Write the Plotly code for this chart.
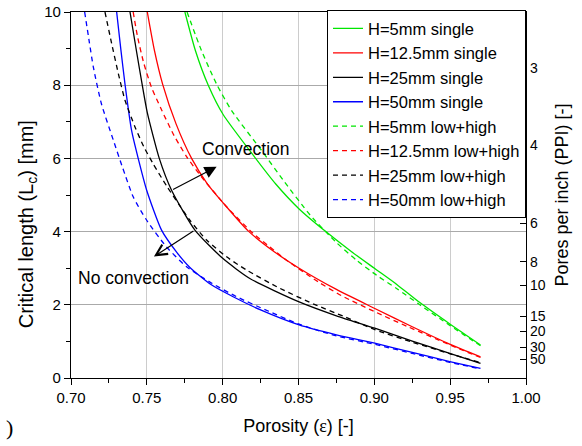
import plotly.graph_objects as go

# ---- Critical length vs porosity, single-layer and low+high models ----
eps_h5_single = [0.7751, 0.7820, 0.7905, 0.8003, 0.8190, 0.8350, 0.8504, 0.8680,
                 0.8850, 0.9003, 0.9150, 0.9300, 0.9500, 0.9700]
L_h5_single = [10.00, 8.95, 8.00, 7.20, 6.15, 5.30, 4.62, 4.00,
               3.45, 2.99, 2.55, 2.06, 1.47, 0.90]

eps_h12_single = [0.7503, 0.7550, 0.7604, 0.7692, 0.7795, 0.7900, 0.8000, 0.8168,
                  0.8340, 0.8504, 0.8750, 0.9003, 0.9250, 0.9500, 0.9700]
L_h12_single = [10.00, 8.95, 8.03, 6.95, 6.00, 5.30, 4.80, 4.02,
                3.45, 3.00, 2.42, 1.90, 1.40, 0.92, 0.58]

eps_h25_single = [0.7389, 0.7433, 0.7470, 0.7503, 0.7582, 0.7663, 0.7817, 0.8000,
                  0.8179, 0.8504, 0.8750, 0.9003, 0.9250, 0.9497, 0.9700]
L_h25_single = [10.00, 8.90, 8.00, 7.25, 6.00, 5.13, 4.04, 3.27,
                2.72, 2.08, 1.70, 1.36, 1.01, 0.67, 0.40]

eps_h50_single = [0.7301, 0.7328, 0.7356, 0.7400, 0.7443, 0.7499, 0.7597, 0.7700,
                  0.7784, 0.7920, 0.8069, 0.8250, 0.8504, 0.8750, 0.9003, 0.9250,
                  0.9497, 0.9700]
L_h50_single = [10.00, 9.00, 8.03, 6.75, 6.00, 5.13, 4.04, 3.42,
                3.02, 2.56, 2.22, 1.86, 1.45, 1.18, 0.95, 0.70,
                0.45, 0.26]

eps_h5_dual = [0.7765, 0.7860, 0.7960, 0.8060, 0.8256, 0.8400, 0.8577, 0.8750,
               0.8882, 0.9014, 0.9156, 0.9300, 0.9500, 0.9700]
L_h5_dual = [10.00, 8.95, 8.03, 7.30, 6.22, 5.40, 4.45, 3.70,
             3.22, 2.81, 2.42, 2.00, 1.43, 0.88]

eps_h12_dual = [0.7410, 0.7440, 0.7480, 0.7530, 0.7600, 0.7680, 0.7762, 0.7850,
                0.8026, 0.8201, 0.8311, 0.8421, 0.8629, 0.8783, 0.9003, 0.9222,
                0.9500, 0.9700]
L_h12_dual = [10.00, 9.30, 8.60, 7.95, 7.30, 6.62, 6.05, 5.55,
              4.68, 3.95, 3.58, 3.22, 2.63, 2.25, 1.81, 1.40,
              0.90, 0.56]

eps_h25_dual = [0.7224, 0.7268, 0.7312, 0.7356, 0.7422, 0.7481, 0.7542, 0.7630,
                0.7718, 0.7784, 0.7894, 0.8026, 0.8157, 0.8377, 0.8600, 0.8800,
                0.9003, 0.9250, 0.9500, 0.9700]
L_h25_dual = [10.00, 9.14, 8.32, 7.59, 6.86, 6.31, 5.85, 5.25,
              4.70, 4.31, 3.77, 3.31, 2.95, 2.45, 2.02, 1.68,
              1.32, 0.98, 0.66, 0.42]

eps_h50_dual = [0.7090, 0.7120, 0.7147, 0.7200, 0.7279, 0.7340, 0.7410, 0.7499,
                0.7630, 0.7762, 0.7916, 0.8092, 0.8300, 0.8504, 0.8750, 0.9003,
                0.9250, 0.9497, 0.9700]
L_h50_dual = [10.00, 9.20, 8.50, 7.50, 6.50, 5.75, 4.95, 4.31,
              3.58, 3.04, 2.62, 2.22, 1.83, 1.47, 1.15, 0.92,
              0.67, 0.43, 0.25]

# Pore density ticks on the right axis (pore size in mm = 25.4 / PPI)
ppi_ticks = [3, 4, 6, 8, 10, 15, 20, 30, 50]
MM_PER_INCH = 25.4

GREEN, RED, BLACK, BLUE = "#00e600", "#ff0000", "#000000", "#0000ff"
SANS = "Liberation Sans, Arial, sans-serif"
SERIF = "Liberation Serif, Times New Roman, serif"

series = [
    ("H=5mm single", eps_h5_single, L_h5_single, GREEN, "solid"),
    ("H=12.5mm single", eps_h12_single, L_h12_single, RED, "solid"),
    ("H=25mm single", eps_h25_single, L_h25_single, BLACK, "solid"),
    ("H=50mm single", eps_h50_single, L_h50_single, BLUE, "solid"),
    ("H=5mm low+high", eps_h5_dual, L_h5_dual, GREEN, "5px,4px"),
    ("H=12.5mm low+high", eps_h12_dual, L_h12_dual, RED, "5px,4px"),
    ("H=25mm low+high", eps_h25_dual, L_h25_dual, BLACK, "5px,4px"),
    ("H=50mm low+high", eps_h50_dual, L_h50_dual, BLUE, "5px,4px"),
]

fig = go.Figure()
for name, xs, ys, color, dash in series:
    fig.add_trace(go.Scatter(
        x=xs, y=ys, name=name, mode="lines",
        line=dict(color=color, width=1.3, dash=dash, shape="spline", smoothing=0.6),
    ))

# invisible trace to activate the right-hand PPI axis
fig.add_trace(go.Scatter(x=[0.7], y=[0], yaxis="y2", mode="markers",
                         marker=dict(opacity=0), showlegend=False, hoverinfo="skip"))

axis_common = dict(
    showline=True, linecolor="black", linewidth=1.2,
    tickfont=dict(family=SANS, size=15, color="black"),
    ticks="outside", ticklen=6, tickcolor="black", tickwidth=1.2,
    zeroline=False,
)

fig.update_layout(
    width=582, height=446,
    margin=dict(l=71, r=56, t=12, b=68, autoexpand=False),
    paper_bgcolor="white", plot_bgcolor="white",
    font=dict(family=SANS, color="black"),
    showlegend=True,
    xaxis=dict(
        range=[0.70, 1.00], dtick=0.05, tick0=0.70, tickformat=".2f",
        showgrid=True, gridcolor="#cccccc", gridwidth=1,
        mirror=True,
        minor=dict(dtick=0.025, ticks="outside", ticklen=4, tickcolor="black",
                   showgrid=False),
        title=dict(text='Porosity (<span style="font-family:Liberation Serif">ε</span>) [-]',
                   font=dict(size=18), standoff=14),
        **axis_common,
    ),
    yaxis=dict(
        range=[0, 10], dtick=2, tick0=0,
        showgrid=True, gridcolor="#aaaaaa", gridwidth=1,
        minor=dict(dtick=1, ticks="outside", ticklen=4, tickcolor="black",
                   showgrid=False),
        **axis_common,
    ),
    yaxis2=dict(
        overlaying="y", side="right", range=[0, 10],
        tickmode="array",
        tickvals=[MM_PER_INCH / p for p in ppi_ticks],
        ticktext=[str(p) for p in ppi_ticks],
        showgrid=False, showline=True, linecolor="black", linewidth=1.2,
        ticks="inside", ticklen=6, tickcolor="black", tickwidth=1.2,
        tickfont=dict(family=SANS, size=14, color="black"),
        zeroline=False,
        title=dict(text="Pores per inch (PPI) [-]", font=dict(size=18), standoff=10),
    ),
    legend=dict(
        x=1.0, xanchor="right", y=1.005, yanchor="top",
        bgcolor="white", bordercolor="black", borderwidth=1,
        font=dict(family=SANS, size=16.5, color="black"),
        tracegroupgap=0, itemwidth=30, maxheight=1,
    ),
)

# arrows start on the H=25mm single curve
tail_conv = (eps_h25_single[5], L_h25_single[5])
tail_noconv = (eps_h25_single[6], L_h25_single[6])

annotations = [
    dict(x=0.796, y=5.77, ax=tail_conv[0], ay=tail_conv[1],
         xref="x", yref="y", axref="x", ayref="y", text="",
         showarrow=True, arrowhead=2, arrowsize=2, arrowwidth=1.2, arrowcolor="black",
         standoff=0, startstandoff=0),
    dict(x=0.7547, y=3.32, ax=tail_noconv[0], ay=tail_noconv[1],
         xref="x", yref="y", axref="x", ayref="y", text="",
         showarrow=True, arrowhead=5, arrowsize=1.8, arrowwidth=1.2, arrowcolor="black",
         standoff=0, startstandoff=0),
    dict(x=0.8157, y=6.25, xref="x", yref="y", text="Convection", showarrow=False,
         xanchor="center", yanchor="middle",
         font=dict(family=SANS, size=17.5, color="black")),
    dict(x=0.7415, y=2.74, xref="x", yref="y", text="No convection", showarrow=False,
         xanchor="center", yanchor="middle",
         font=dict(family=SANS, size=17.5, color="black")),
    dict(x=-0.0967, y=0.42, xref="paper", yref="paper", textangle=-90,
         xanchor="center", yanchor="middle",
         text="Critical length (L<sub>c</sub>) [mm]", showarrow=False,
         font=dict(family=SANS, size=20, color="black")),
    dict(x=-0.135, y=-0.1365, xref="paper", yref="paper", text=")", showarrow=False,
         xanchor="center", yanchor="middle",
         font=dict(family=SERIF, size=22, color="black")),
]
fig.update_layout(annotations=annotations)

fig.write_html("out.html")
